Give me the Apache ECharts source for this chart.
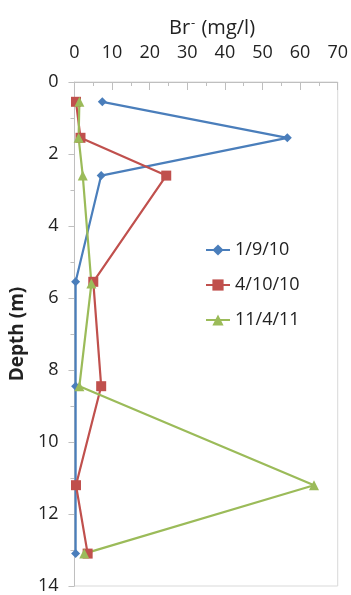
<!DOCTYPE html>
<html>
<head>
<meta charset="utf-8">
<script src="https://cdn.jsdelivr.net/npm/echarts@6/dist/echarts.min.js"></script>
<style>html,body{margin:0;padding:0;background:#fff}#c{width:351px;height:595px}</style>
</head>
<body>
<div id="c"></div>
<script>
var seriesNames = ['1/9/10', '4/10/10', '11/4/11'];
var depth1 = [0.55, 1.55, 2.6, 5.55, 8.45, 13.1];
var br1 = [7.4, 56.6, 7.1, 0.3, 0.3, 0.3];
var depth2 = [0.55, 1.55, 2.6, 5.55, 8.45, 11.2, 13.1];
var br2 = [0.4, 1.6, 24.4, 5.0, 7.1, 0.4, 3.5];
var depth3 = [0.55, 1.55, 2.6, 5.6, 8.45, 11.2, 13.1];
var br3 = [1.3, 1.1, 2.2, 4.5, 1.3, 63.7, 2.6];
var xTicks = [0, 10, 20, 30, 40, 50, 60, 70];
var yTicks = [0, 2, 4, 6, 8, 10, 12, 14];

function pairs(xs, ys) { return xs.map(function (x, i) { return [x, ys[i]]; }); }

var FONT = 'Open Sans';
var chart = echarts.init(document.getElementById('c'), null, { renderer: 'canvas' });
var colors = ['#4a7ebb', '#c0504d', '#9bbb59'];
var symbols = ['diamond', 'rect', 'triangle'];
var sizes = [9, 10, 10];
var datas = [pairs(br1, depth1), pairs(br2, depth2), pairs(br3, depth3)];

chart.setOption({
  animation: false,
  textStyle: { fontFamily: FONT },
  title: {
    text: '{a|Br}{s|-}{a| (mg/l)}',
    left: 164, top: 12,
    textStyle: {
      fontWeight: 'normal',
      rich: {
        a: { fontFamily: FONT, fontSize: 20, fontWeight: 'normal', color: '#222' },
        s: { fontFamily: FONT, fontSize: 13, fontWeight: 'normal', color: '#222', verticalAlign: 'top', padding: [0, 1, 10, 1] }
      }
    }
  },
  grid: { left: 70, top: 82, width: 268, height: 506, show: true, borderColor: '#d9d9d9', borderWidth: 1, backgroundColor: 'transparent' },
  legend: {
    orient: 'vertical', left: 200, top: 236, itemGap: 17, itemWidth: 24, itemHeight: 14,
    textStyle: { fontFamily: FONT, fontSize: 18, color: '#222' },
    data: seriesNames
  },
  xAxis: {
    type: 'value', position: 'top', min: xTicks[0], max: xTicks[xTicks.length - 1], interval: 10,
    axisLine: { show: true, lineStyle: { color: '#bfbfbf' } },
    axisTick: { show: true, inside: true, length: 8, lineStyle: { color: '#bfbfbf' } },
    minorTick: { show: true, splitNumber: 2, length: 4, lineStyle: { color: '#bfbfbf' } },
    splitLine: { show: false },
    axisLabel: { fontFamily: FONT, fontSize: 18, color: '#222', margin: 20 }
  },
  yAxis: {
    type: 'value', inverse: true, min: yTicks[0], max: yTicks[yTicks.length - 1], interval: 2,
    name: 'Depth (m)', nameLocation: 'middle', nameGap: 40, nameRotate: 90,
    nameTextStyle: { fontFamily: FONT, fontSize: 19, fontWeight: 'bold', color: '#222' },
    axisLine: { show: true, lineStyle: { color: '#bfbfbf' } },
    axisTick: { show: true, length: 6, lineStyle: { color: '#bfbfbf' } },
    minorTick: { show: true, splitNumber: 2, length: 4, lineStyle: { color: '#bfbfbf' } },
    splitLine: { show: false },
    axisLabel: { fontFamily: FONT, fontSize: 18, color: '#222', margin: 16 }
  },
  series: seriesNames.map(function (n, i) {
    return {
      name: n, type: 'line', data: datas[i], color: colors[i],
      symbol: symbols[i], symbolSize: sizes[i], showAllSymbol: true,
      lineStyle: { width: 2.2, color: colors[i] },
      itemStyle: { color: colors[i] }
    };
  })
});
</script>
</body>
</html>
